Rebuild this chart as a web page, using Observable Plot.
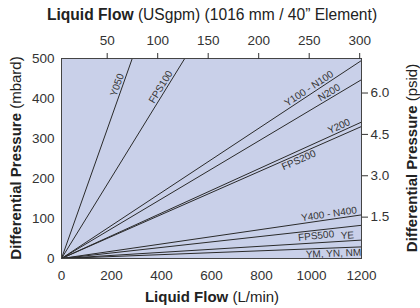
<!DOCTYPE html>
<html><head><meta charset="utf-8">
<script src="https://cdn.jsdelivr.net/npm/d3@7"></script>
<script src="https://cdn.jsdelivr.net/npm/@observablehq/plot@0.6"></script>
<style>
html,body{margin:0;padding:0;background:#fff;}
#chart svg{display:block;}
</style></head><body><div id="chart"></div>
<script>
// ---- data ----
const series   = ["Y050","FPS100","Y100 - N100","N200","Y200","FPS200","Y400 - N400","FPS500","YE","YM, YN, NM"];
const endFlow  = [283, 493, 1200, 1200, 1200, 1200, 1200, 1200, 1200, 1200];   // L/min
const endDP    = [500, 500, 495, 447, 341, 330, 109, 83, 46, 29];              // mbard
const labelFlow = [243, 416, 1002, 1082, 1119, 940, 1073, 1016, 1145, 1087];   // where each label sits
const labelSide = [1, 1, 1, 1, 1, -1, 1, -1, 1, -1];                             // above (1) / below (-1)
const xTicks = [0, 200, 400, 600, 800, 1000, 1200];
const yTicks = [0, 100, 200, 300, 400, 500];
const topTicks = [50, 100, 150, 200, 250, 300];   // USgpm, as printed
const rightTicks = [1.5, 3.0, 4.5, 6.0];          // psid

const gpmToLmin = g => (g - 4.75) * 4.04;   // top scale as drawn in the reference
const psiToMbar = p => p * 68.948;

// ---- layout ----
const W = 420, H = 308, ML = 61, MR = 59, MT = 58, MB = 50;
const xDom = [0, 1200], yDom = [0, 500];
const kx = (W - ML - MR) / (xDom[1] - xDom[0]);
const ky = (H - MT - MB) / (yDom[1] - yDom[0]);

const lineData = series.flatMap((name, i) => [
  {name, flow: 0, dp: 0},
  {name, flow: endFlow[i], dp: endDP[i]}
]);

const labels = series.map((name, i) => {
  const th = Math.atan2(endDP[i] * ky, endFlow[i] * kx);
  const f = labelFlow[i], dp = endDP[i] * f / endFlow[i];
  const d = 5.5 * labelSide[i];
  return {name, x: f - d * Math.sin(th) / kx, y: dp + d * Math.cos(th) / ky, r: -th * 180 / Math.PI};
});

const topPos = topTicks.map(gpmToLmin);
const rightPos = rightTicks.map(psiToMbar);

const plot = Plot.plot({
  width: W, height: H,
  marginLeft: ML, marginRight: MR, marginTop: MT, marginBottom: MB,
  style: {fontFamily: "'Liberation Sans', Arial, sans-serif", fontSize: "13.5px", color: "#333", background: "#fff"},
  x: {domain: xDom},
  y: {domain: yDom},
  marks: [
    Plot.frame({fill: "#c9d0e9", stroke: "none"}),
    Plot.line(lineData, {x: "flow", y: "dp", z: "name", stroke: "#2a2a2a", strokeWidth: 1}),
    Plot.text(labels, {x: "x", y: "y", text: "name", rotate: "r", fontSize: 10, fill: "#333",
                       textAnchor: "middle", lineAnchor: "middle"}),
    Plot.frame({stroke: "#444", strokeWidth: 1}),
    Plot.axisX(xTicks, {anchor: "bottom", tickSize: 0, tickPadding: 12, label: null, tickFormat: d => String(d)}),
    Plot.axisX(topPos, {anchor: "top", tickSize: 6, tickPadding: 8, label: null,
      tickFormat: d => String(topTicks[d3.minIndex(topPos, p => Math.abs(p - d))])}),
    Plot.axisY(yTicks, {anchor: "left", tickSize: 0, tickPadding: 7, label: null, tickFormat: d => String(d)}),
    Plot.axisY(rightPos, {anchor: "right", tickSize: 6, tickPadding: 3, label: null,
      tickFormat: d => rightTicks[d3.minIndex(rightPos, p => Math.abs(p - d))].toFixed(1)})
  ]
});

const svg = d3.select(plot);
function addLabel(x, y, rot, bold, reg, size) {
  const t = svg.append("text")
    .attr("transform", `translate(${x},${y}) rotate(${rot})`)
    .attr("text-anchor", "middle").attr("fill", "#222")
    .style("font-size", size + "px");
  t.append("tspan").attr("font-weight", "bold").text(bold);
  t.append("tspan").text(reg);
}
addLabel(212, 20, 0, "Liquid Flow", " (USgpm) (1016 mm / 40\u201D Element)", 15.6);
addLabel(212, 302, 0, "Liquid Flow", " (L/min)", 15);
addLabel(21, 158, -90, "Differential Pressure", " (mbard)", 15);
addLabel(417, 158, -90, "Differential Pressure", " (psid)", 15);

document.getElementById("chart").appendChild(plot);
</script></body></html>
